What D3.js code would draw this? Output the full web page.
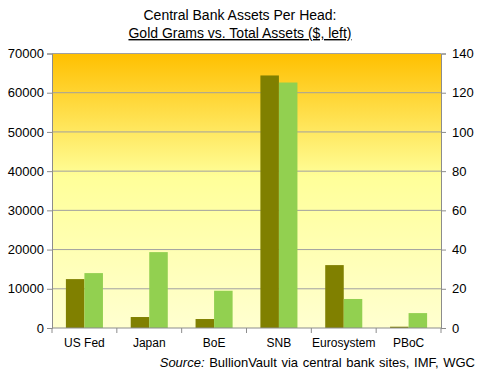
<!DOCTYPE html>
<html>
<head>
<meta charset="utf-8">
<script src="https://cdn.jsdelivr.net/npm/d3@7"></script>
<style>
  body { margin: 0; background: #fff; }
  svg { font-family: "Liberation Sans", Arial, sans-serif; }
</style>
</head>
<body>
<div id="chart"></div>
<script>
// chart data
var banks = ["US Fed", "Japan", "BoE", "SNB", "Eurosystem", "PBoC"];
var totalAssets = [12470, 2800, 2290, 64400, 16040, 330];   // $ per head, left axis
var goldGrams = [28, 38.7, 19, 125.2, 14.8, 7.6];          // grams per head, right axis
var leftTicks = [0, 10000, 20000, 30000, 40000, 50000, 60000, 70000];
var rightTicks = [0, 20, 40, 60, 80, 100, 120, 140];

var width = 480, height = 378;
var plot = { left: 52, right: 441, top: 53.5, bottom: 328 };

var svg = d3.select("#chart").append("svg")
    .attr("width", width)
    .attr("height", height);

// background gradient of the plot area
var grad = svg.append("defs").append("linearGradient")
    .attr("id", "bg").attr("x1", 0).attr("y1", 0).attr("x2", 0).attr("y2", 1);
grad.append("stop").attr("offset", "0%").attr("stop-color", "#FFC000");
grad.append("stop").attr("offset", "45%").attr("stop-color", "#FFFF99");
grad.append("stop").attr("offset", "100%").attr("stop-color", "#FFFFD0");

svg.append("rect")
    .attr("x", plot.left).attr("y", plot.top)
    .attr("width", plot.right - plot.left).attr("height", plot.bottom - plot.top)
    .attr("fill", "url(#bg)");

// scales
var x = d3.scaleBand().domain(banks).range([plot.left, plot.right]);
var yLeft = d3.scaleLinear().domain([0, 70000]).range([plot.bottom, plot.top]);
var yRight = d3.scaleLinear().domain([0, 140]).range([plot.bottom, plot.top]);

// gridlines
svg.append("g").selectAll("line")
    .data(leftTicks.slice(1))
    .enter().append("line")
    .attr("x1", plot.left).attr("x2", plot.right)
    .attr("y1", (d) => yLeft(d)).attr("y2", (d) => yLeft(d))
    .attr("stroke", "#A0A0A0").attr("stroke-width", 1);

// bars: gap width 150% of bar width
var barW = x.bandwidth() / 3.5;
var pad = barW * 0.75;

svg.append("g").selectAll("rect")
    .data(banks)
    .enter().append("rect")
    .attr("x", (d) => x(d) + pad)
    .attr("y", (d, i) => yLeft(totalAssets[i]))
    .attr("width", barW)
    .attr("height", (d, i) => plot.bottom - yLeft(totalAssets[i]))
    .attr("fill", "#808000");

svg.append("g").selectAll("rect")
    .data(banks)
    .enter().append("rect")
    .attr("x", (d) => x(d) + pad + barW)
    .attr("y", (d, i) => yRight(goldGrams[i]))
    .attr("width", barW)
    .attr("height", (d, i) => plot.bottom - yRight(goldGrams[i]))
    .attr("fill", "#92D050");

// axes
function styleAxis(g) {
    g.selectAll("path, line").attr("stroke", "#8C8C8C");
    g.selectAll("text").attr("fill", "#000").style("font-size", "13px");
}

svg.append("g")
    .attr("transform", "translate(" + plot.left + ",0)")
    .call(d3.axisLeft(yLeft).tickValues(leftTicks).tickFormat(d3.format("d")).tickSizeOuter(0).tickSize(5).tickPadding(3))
    .call(styleAxis)
    .attr("font-family", null);

svg.append("g")
    .attr("transform", "translate(" + plot.right + ",0)")
    .call(d3.axisRight(yRight).tickValues(rightTicks).tickSizeOuter(0).tickSize(5).tickPadding(6))
    .call(styleAxis)
    .attr("font-family", null);

var xAxis = svg.append("g")
    .attr("transform", "translate(0," + plot.bottom + ")");
xAxis.append("line")
    .attr("x1", plot.left).attr("x2", plot.right)
    .attr("stroke", "#8C8C8C");
xAxis.selectAll(".tk")
    .data(banks.concat([null]))
    .enter().append("line")
    .attr("x1", (d, i) => plot.left + i * x.step())
    .attr("x2", (d, i) => plot.left + i * x.step())
    .attr("y1", 0).attr("y2", 5)
    .attr("stroke", "#8C8C8C");
xAxis.selectAll("text")
    .data(banks)
    .enter().append("text")
    .attr("x", (d) => x(d) + x.bandwidth() / 2)
    .attr("y", 19)
    .attr("text-anchor", "middle")
    .style("font-size", "12px")
    .text((d) => d);

// title
svg.append("text")
    .attr("x", 240).attr("y", 20)
    .attr("text-anchor", "middle")
    .style("font-size", "14px")
    .text("Central Bank Assets Per Head:");
svg.append("text")
    .attr("x", 240).attr("y", 38)
    .attr("text-anchor", "middle")
    .style("font-size", "14px")
    .attr("text-decoration", "underline")
    .text("Gold Grams vs. Total Assets ($, left)");

// source
var src = svg.append("text")
    .attr("x", 475).attr("y", 367)
    .attr("text-anchor", "end")
    .style("font-size", "13px")
    .style("word-spacing", "1px");
src.append("tspan").style("font-style", "italic").text("Source:");
src.append("tspan").text(" BullionVault via  central bank sites, IMF, WGC");
</script>
</body>
</html>
